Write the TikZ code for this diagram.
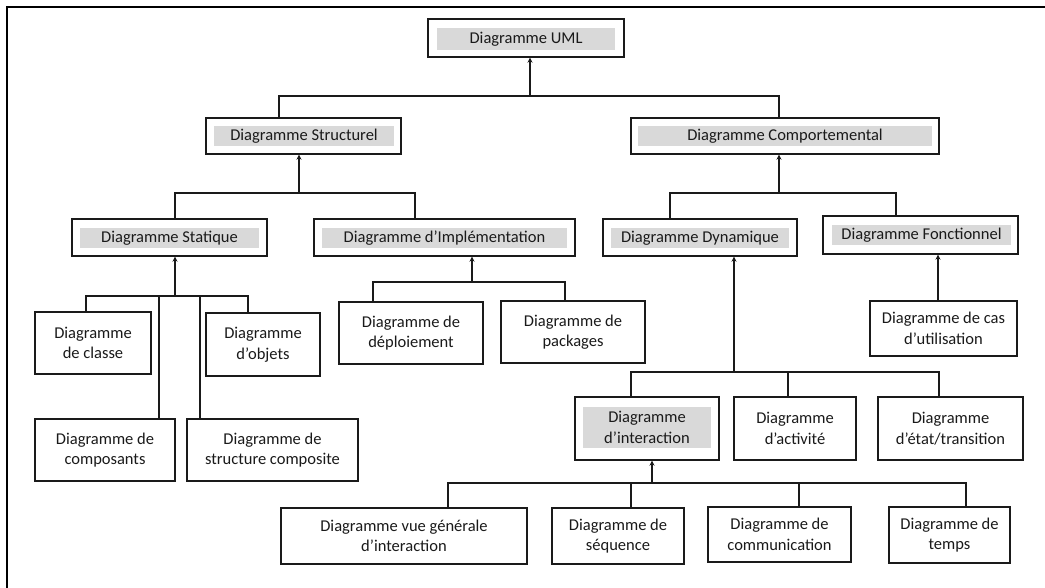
\documentclass[tikz,border=0pt]{standalone}
\usepackage{fontspec}
\setmainfont{Carlito}
\usetikzlibrary{arrows.meta}
\definecolor{labelgray}{HTML}{D9D9D9}
\definecolor{ink}{HTML}{1A1A1A}
\tikzset{
  outer/.style={draw=ink, line width=1.4pt, fill=white, inner sep=0pt, align=center},
  tag/.style={fill=labelgray, inner sep=0pt, align=center},
  plain/.style={outer, font=\fontsize{16.5}{20.5}\selectfont, text=ink},
  tagtext/.style={tag, font=\fontsize{16.5}{20.5}\selectfont, text=ink},
  link/.style={draw=ink, line width=1.2pt},
  uparrow/.style={link, -{Stealth[length=5pt,width=5pt]}},
}
\begin{document}
\begin{tikzpicture}[x=1pt,y=-1pt]
\useasboundingbox (0,0) rectangle (1045,588);
% page frame (top and left edges only)
\draw[line width=2.2pt, black] (1046,7) -- (7,7) -- (7,589);

% ---- boxes with grey title bands ----
\node[outer, minimum width=196, minimum height=38] (uml) at (526,38) {};
\node[tagtext, minimum width=178, minimum height=22] (umlt) at (526,39) {Diagramme UML};

\node[outer, minimum width=195, minimum height=36] (struct) at (303.5,136) {};
\node[tagtext, minimum width=180, minimum height=20] (structt) at (304,136.5) {Diagramme Structurel};

\node[outer, minimum width=308, minimum height=36] (comp) at (785,136) {};
\node[tagtext, minimum width=294, minimum height=20] (compt) at (785,136.5) {Diagramme Comportemental};

\node[outer, minimum width=195, minimum height=37] (stat) at (169.5,237.5) {};
\node[tagtext, minimum width=179, minimum height=20] (statt) at (169.5,238.5) {Diagramme Statique};

\node[outer, minimum width=261, minimum height=37] (impl) at (444.5,237.5) {};
\node[tagtext, minimum width=245, minimum height=20] (implt) at (444.5,238.5) {Diagramme d’Implémentation};

\node[outer, minimum width=194, minimum height=37] (dyn) at (700,237.5) {};
\node[tagtext, minimum width=178, minimum height=20] (dynt) at (700,238.5) {Diagramme Dynamique};

\node[outer, minimum width=195, minimum height=38] (fonc) at (920.5,235) {};
\node[tagtext, minimum width=179, minimum height=20] (fonct) at (921.5,235.5) {Diagramme Fonctionnel};

\node[outer, minimum width=144, minimum height=63] (inter) at (647,428.5) {};
\node[tagtext, minimum width=128, minimum height=41] (intert) at (647,427.5) {Diagramme\\d’interaction};

% ---- plain boxes ----
\node[plain, minimum width=116, minimum height=62] (classe) at (93,343) {Diagramme\\de classe};
\node[plain, minimum width=114, minimum height=63] (objets) at (263,344.5) {Diagramme\\d’objets};
\node[plain, minimum width=140, minimum height=62] (compos) at (105,450) {Diagramme de\\composants};
\node[plain, minimum width=171, minimum height=62] (structc) at (272.5,450) {Diagramme de\\structure composite};
\node[plain, minimum width=144, minimum height=62] (deploi) at (411,333) {Diagramme de\\déploiement};
\node[plain, minimum width=144, minimum height=62] (pack) at (573,332) {Diagramme de\\packages};
\node[plain, minimum width=147, minimum height=55] (cas) at (943.5,328.5) {Diagramme de cas\\d’utilisation};
\node[plain, minimum width=122, minimum height=63] (activ) at (795,428.5) {Diagramme\\d’activité};
\node[plain, minimum width=145, minimum height=63] (etat) at (950.5,428.5) {Diagramme\\d’état/transition};
\node[plain, minimum width=246, minimum height=56] (vue) at (404,536) {Diagramme vue générale\\d’interaction};
\node[plain, minimum width=132, minimum height=56] (seq) at (618,536) {Diagramme de\\séquence};
\node[plain, minimum width=143, minimum height=55] (comm) at (779.5,534.5) {Diagramme de\\communication};
\node[plain, minimum width=121, minimum height=56] (temps) at (949.5,535) {Diagramme de\\temps};

% ---- junction points on the connecting bars ----
\coordinate (j0) at (530,96);
\coordinate (j0a) at (279,96);
\coordinate (j0b) at (779,96);

\coordinate (j1) at (299,193);
\coordinate (j1a) at (175,193);
\coordinate (j1b) at (415,193);

\coordinate (j2) at (779,193);
\coordinate (j2a) at (670,193);
\coordinate (j2b) at (896,193);

\coordinate (j3) at (175,296);
\coordinate (j3a) at (86,296);
\coordinate (j3b) at (159,296);
\coordinate (j3c) at (200,296);
\coordinate (j3d) at (248,296);

\coordinate (j4) at (472,282);
\coordinate (j4a) at (373,282);
\coordinate (j4b) at (565,282);

\coordinate (j5) at (734,372);
\coordinate (j5a) at (631,372);
\coordinate (j5b) at (788,372);
\coordinate (j5c) at (939,372);

\coordinate (j6) at (938,300);

\coordinate (j7) at (652,483);
\coordinate (j7a) at (448,483);
\coordinate (j7b) at (631,483);
\coordinate (j7c) at (799,483);
\coordinate (j7d) at (966,483);

% ---- connectors ----
\draw[link] (struct.north -| j0a) -- (j0a) -- (j0b) -- (comp.north -| j0b);
\draw[uparrow] (j0) -- (uml.south -| j0);

\draw[link] (stat.north -| j1a) -- (j1a) -- (j1b) -- (impl.north -| j1b);
\draw[uparrow] (j1) -- (struct.south -| j1);

\draw[link] (dyn.north -| j2a) -- (j2a) -- (j2b) -- (fonc.north -| j2b);
\draw[uparrow] (j2) -- (comp.south -| j2);

\draw[link] (classe.north -| j3a) -- (j3a) -- (j3d) -- (objets.north -| j3d);
\draw[link] (j3b) -- (compos.north -| j3b);
\draw[link] (j3c) -- (structc.north -| j3c);
\draw[uparrow] (j3) -- (stat.south -| j3);

\draw[link] (deploi.north -| j4a) -- (j4a) -- (j4b) -- (pack.north -| j4b);
\draw[uparrow] (j4) -- (impl.south -| j4);

\draw[link] (inter.north -| j5a) -- (j5a) -- (j5c) -- (etat.north -| j5c);
\draw[link] (j5b) -- (activ.north -| j5b);
\draw[uparrow] (j5) -- (dyn.south -| j5);

\draw[uparrow] (cas.north -| j6) -- (fonc.south -| j6);

\draw[link] (vue.north -| j7a) -- (j7a) -- (j7d) -- (temps.north -| j7d);
\draw[link] (j7b) -- (seq.north -| j7b);
\draw[link] (j7c) -- (comm.north -| j7c);
\draw[uparrow] (j7) -- (inter.south -| j7);
\end{tikzpicture}
\end{document}
